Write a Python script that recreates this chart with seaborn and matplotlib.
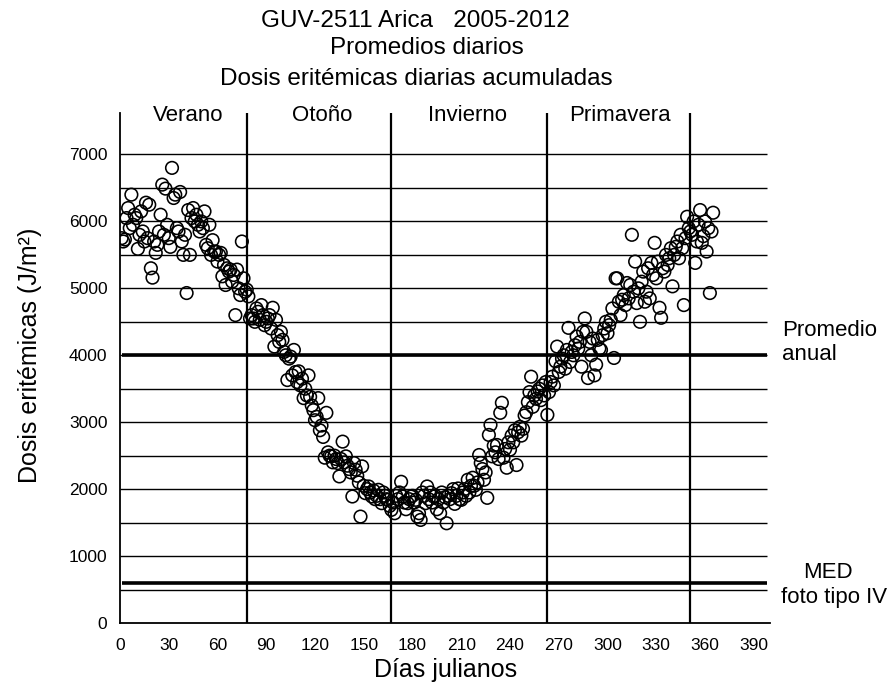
import matplotlib
matplotlib.use("Agg")
import matplotlib.pyplot as plt
import seaborn as sns
import numpy as np
import pandas as pd
from matplotlib.ticker import MultipleLocator, FuncFormatter

# ---------------- data ----------------
dose = [
    5750, 5700, 5730, 6050, 6200, 5900, 6400, 5950, 6100, 6050,
    5590, 5800, 6150, 5850, 5700, 6280, 5750, 6250, 5300, 5160,
    5700, 5530, 5650, 5850, 6100, 6550, 5800, 6490, 5950, 5750,
    5620, 6800, 6350, 6400, 5900, 5850, 6440, 5700, 5500, 5800,
    4930, 6170, 5500, 6050, 6200, 6000, 6100, 5950, 5850, 6000,
    5900, 6150, 5650, 5600, 5950, 5500, 5720, 5550, 5550, 5400,
    5500, 5530, 5180, 5350, 5050, 5300, 5250, 5280, 5100, 5200,
    4600, 5280, 5000, 4900, 5700, 5150, 4950, 4980, 4880, 4550,
    4600, 4550, 4500, 4700, 4650, 4530, 4750, 4600, 4450, 4500,
    4550, 4600, 4400, 4710, 4130, 4530, 4300, 4200, 4350, 4230,
    4050, 4000, 3630, 3950, 3980, 3700, 4080, 3750, 3600, 3760,
    3550, 3650, 3360, 3500, 3400, 3700, 3380, 3250, 3180, 3030,
    3080, 3360, 2880, 2950, 2780, 2470, 3140, 2550, 2500, 2490,
    2400, 2500, 2450, 2390, 2190, 2450, 2710, 2400, 2490, 2350,
    2300, 2250, 1890, 2390, 2290, 2200, 2100, 1590, 2340, 2050,
    1940, 2000, 2040, 1950, 1890, 1980, 1850, 1900, 1990, 1850,
    1790, 1950, 1900, 1850, 1840, 1750, 1690, 1800, 1640, 1900,
    1850, 1950, 2110, 1890, 1800, 1700, 1790, 1850, 1890, 1900,
    1800, 1840, 1590, 1640, 1540, 1950, 1900, 1790, 2040, 1850,
    1950, 1800, 1890, 1900, 1700, 1850, 1640, 1950, 1800, 1880,
    1490, 1900, 1850, 1940, 2000, 1780, 1900, 2010, 1850, 1840,
    1950, 2000, 1900, 2140, 1950, 2050, 2170, 2050, 1990, 2100,
    2510, 2390, 2300, 2140, 2250, 1870, 2810, 2960, 2490, 2650,
    2550, 2660, 2450, 3140, 3290, 2470, 2600, 2320, 2700, 2590,
    2800, 2700, 2880, 2360, 2850, 2930, 2800, 2900, 3100, 3150,
    3300, 3450, 3680, 3230, 3400, 3350, 3460, 3500, 3330, 3550,
    3400, 3600, 3110, 3450, 3600, 3680, 3550, 3910, 4130, 3750,
    3830, 3950, 4000, 3800, 4080, 4410, 3900, 4050, 4000, 4150,
    4280, 4100, 4200, 3830, 4350, 4550, 4350, 3660, 4200, 4000,
    4250, 3700, 3860, 4230, 4100, 4080, 4300, 4400, 4500, 4330,
    4450, 4530, 4700, 3960, 5150, 5150, 4800, 4600, 4830, 4900,
    4750, 5080, 4850, 5050, 5800, 4950, 5400, 4780, 5000, 4500,
    5100, 5250, 4800, 4950, 5300, 4850, 5380, 5200, 5680, 5150,
    5400, 4710, 4560, 5300, 5250, 5500, 5350, 5450, 5600, 5030,
    5500, 5620, 5700, 5450, 5800, 5600, 4750, 5750, 6070, 5900,
    5850, 5800, 6000, 5380, 5700, 5950, 6170, 5680, 5780, 6000,
    5550, 5900, 4930, 5850, 6130,
]
days = list(range(1, len(dose) + 1))

season_names = ["Verano", "Otoño", "Invierno", "Primavera"]
season_label_x = [42, 124.5, 214, 307.5]
season_bounds = [78, 167, 263, 351]

grid_levels = list(range(500, 7001, 500))
annual_mean = 4000
med_level = 600

title_lines = ["GUV-2511 Arica   2005-2012", "Promedios diarios",
               "Dosis eritémicas diarias acumuladas"]

df = pd.DataFrame({"dia": days, "dosis": dose})

# ---------------- style ----------------
sns.set_style("white")
FONT = ["Liberation Sans", "DejaVu Sans"]
plt.rcParams["font.family"] = FONT
plt.rcParams["text.color"] = "black"
plt.rcParams["xtick.color"] = "black"
plt.rcParams["ytick.color"] = "black"

W, H = 894, 692
fig = plt.figure(figsize=(W / 100, H / 100), dpi=100)
ax = fig.add_axes([120 / W, 1 - 623 / H, (770 - 120) / W, (623 - 113) / H])

XMAX, YMAX = 400, 7620
ax.set_xlim(0, XMAX)
ax.set_ylim(0, YMAX)

# grid lines
ax.hlines(grid_levels, 0, 398, color="black", lw=1.0, zorder=1)
ax.hlines([annual_mean], 1, 398, color="black", lw=2.6, zorder=2)
ax.hlines([med_level], 1, 398, color="black", lw=2.6, zorder=2)
ax.vlines(season_bounds, 0, YMAX, color="black", lw=1.6, zorder=2)

sns.scatterplot(data=df, x="dia", y="dosis", ax=ax, marker="o", s=82,
                facecolors="none", edgecolors="black", linewidth=1.15,
                zorder=3, legend=False)

# spines
for s in ["top", "right"]:
    ax.spines[s].set_visible(False)
for s in ["left", "bottom"]:
    ax.spines[s].set_linewidth(1.3)
    ax.spines[s].set_color("black")

# ticks
ax.set_xticks(list(range(0, 391, 30)))
ax.set_yticks(list(range(0, 7001, 500)))
ax.xaxis.set_minor_locator(MultipleLocator(15))
ax.yaxis.set_minor_locator(MultipleLocator(250))
ax.yaxis.set_major_formatter(FuncFormatter(lambda v, p: f"{int(v)}" if int(v) % 1000 == 0 else ""))
ax.tick_params(axis="x", which="major", direction="out", length=8, width=1.1,
               labelsize=12.5, pad=3, colors="black")
ax.tick_params(axis="x", which="minor", direction="out", length=5, width=1.1)
ax.tick_params(axis="y", which="major", direction="out", length=7, width=1.0,
               labelsize=12.5, pad=2, colors="black")
ax.tick_params(axis="y", which="minor", direction="out", length=3, width=1.0)
ax.set_xlabel("")
ax.set_ylabel("")

# season labels
for name, xpos in zip(season_names, season_label_x):
    ax.text(xpos, 7590, name, ha="center", va="center", fontsize=16)

# titles
fig.text(415 / W, 1 - 21 / H, title_lines[0], ha="center", va="center", fontsize=17.5)
fig.text(427 / W, 1 - 48 / H, title_lines[1], ha="center", va="center", fontsize=17.5)
fig.text(416 / W, 1 - 79 / H, title_lines[2], ha="center", va="center", fontsize=17.5)

# axis labels
fig.text(446 / W, 1 - 670 / H, "Días julianos", ha="center", va="center", fontsize=18)
fig.text(30 / W, 1 - 355 / H, "Dosis eritémicas (J/m²)", ha="center", va="center",
         rotation=90, fontsize=18)

# right annotations
fig.text(782 / W, 1 - 330 / H, "Promedio", ha="left", va="center", fontsize=16)
fig.text(782 / W, 1 - 355 / H, "anual", ha="left", va="center", fontsize=16)
fig.text(803 / W, 1 - 572 / H, "MED", ha="left", va="center", fontsize=16)
fig.text(781 / W, 1 - 597 / H, "foto tipo IV", ha="left", va="center", fontsize=16)

fig.savefig("out.png", dpi=100, facecolor="white")
